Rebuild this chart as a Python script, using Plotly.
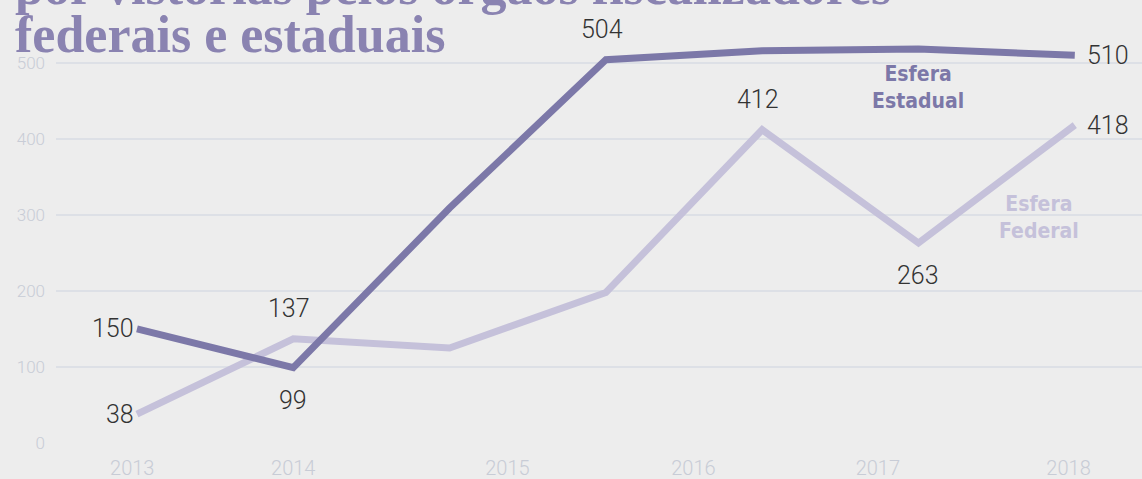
import plotly.graph_objects as go

# ---- data ----
periods = [0, 1, 2, 3, 4, 5, 6]
estadual = [150, 99, 309, 504, 516, 518, 510]
federal = [38, 137, 125, 198, 412, 263, 418]
estadual_labeled = [True, True, False, True, False, False, True]
federal_labeled = [True, True, False, False, True, True, True]
year_labels = ["2013", "2014", "2015", "2016", "2017", "2018"]
year_tick_pos = [-0.03, 1.0, 2.37, 3.56, 4.74, 5.96]
y_ticks = [0, 100, 200, 300, 400, 500]
title_lines = ["por vistorias pelos órgãos fiscalizadores", "federais e estaduais"]

C_EST = "#7c78a8"
C_FED = "#c5c1da"
BG = "#ededed"
GRID = "#dde0e6"
TICK = "#c8ccd6"
LABEL_FONT = "Roboto"
NARROW = "DejaVu Sans Condensed"

fig = go.Figure()
fig.add_trace(go.Scatter(x=periods, y=federal, mode="lines",
                         line=dict(color=C_FED, width=7), hoverinfo="skip"))
fig.add_trace(go.Scatter(x=periods, y=estadual, mode="lines",
                         line=dict(color=C_EST, width=7), hoverinfo="skip"))

est_pos = ["left", "below", None, "above", None, None, "right"]
fed_pos = ["left", "above", None, None, "above", "below", "right"]

def place(p):
    if p == "left":
        return dict(xanchor="right", yanchor="middle", xshift=-1, yshift=0)
    if p == "right":
        return dict(xanchor="left", yanchor="middle", xshift=10, yshift=0)
    if p == "above":
        return dict(xanchor="center", yanchor="bottom", xshift=-4, yshift=14)
    return dict(xanchor="center", yanchor="top", xshift=0, yshift=-16)

for vals, flags, pos in [(estadual, estadual_labeled, est_pos), (federal, federal_labeled, fed_pos)]:
    for xi, v, f, p in zip(periods, vals, flags, pos):
        if f:
            fig.add_annotation(x=xi, y=v, text=str(v), showarrow=False,
                               font=dict(family=LABEL_FONT, size=25, color="#333333", weight=300),
                               **place(p))

fig.add_annotation(x=5, y=467, text="Esfera<br>Estadual", showarrow=False,
                   font=dict(family=NARROW, size=21, color=C_EST, weight="bold"),
                   xanchor="center", yanchor="middle")
fig.add_annotation(x=5.77, y=296, text="Esfera<br>Federal", showarrow=False,
                   font=dict(family=NARROW, size=21, color=C_FED, weight="bold"),
                   xanchor="center", yanchor="middle")

for line, ypos in zip(title_lines, [1.056, 0.937]):
    fig.add_annotation(xref="paper", yref="paper", x=-0.04, y=ypos, text=line,
                       showarrow=False, align="left", xanchor="left", yanchor="bottom",
                       font=dict(family="Liberation Serif", size=52, color="#8a83b1", weight="bold"))

fig.update_layout(
    width=1142, height=479,
    paper_bgcolor=BG, plot_bgcolor=BG,
    margin=dict(l=56, r=0, t=40, b=36),
    showlegend=False,
    xaxis=dict(range=[-0.518, 6.43], tickvals=year_tick_pos, ticktext=year_labels,
               showgrid=False, zeroline=False, showline=False, ticklabelstandoff=11,
               tickfont=dict(family=LABEL_FONT, size=20, color=TICK, weight=300)),
    yaxis=dict(range=[0, 530], tickvals=y_ticks, showgrid=True, gridcolor=GRID, gridwidth=2,
               zeroline=False, showline=False, ticks="", ticklabelstandoff=10,
               tickfont=dict(family=LABEL_FONT, size=17, color=TICK, weight=300)),
)
fig.write_html("out.html", config={"displayModeBar": False},
               post_script="document.body.style.margin='0';document.body.style.background='#ededed';")
